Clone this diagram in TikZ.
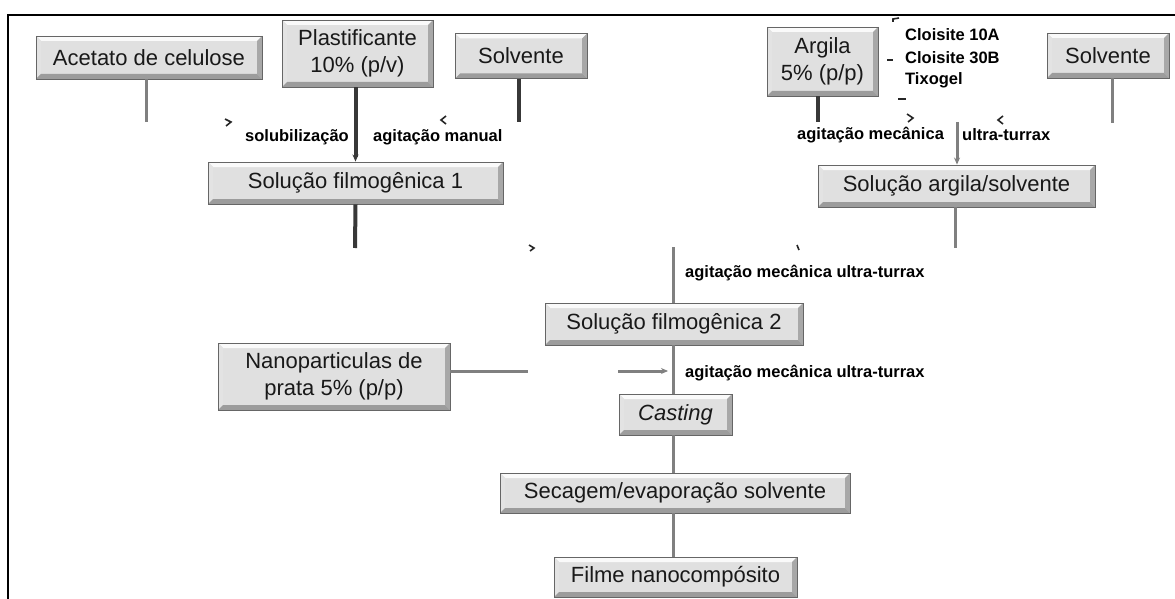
\documentclass[tikz,border=0pt]{standalone}
\usepackage{fontspec}
\setmainfont{Liberation Sans}
\usetikzlibrary{calc,arrows.meta}
\newcommand\bevfaces{%
  \fill[gray!4] let \p1=(path picture bounding box.north west), \p2=(path picture bounding box.south east) in
    (\x1,\y1) -- (\x2,\y1) -- (\x2-5pt,\y1-5pt) -- (\x1+5pt,\y1-5pt) -- cycle;
  \fill[gray!22] let \p1=(path picture bounding box.north west), \p2=(path picture bounding box.south east) in
    (\x1,\y1) -- (\x1,\y2) -- (\x1+5pt,\y2+5pt) -- (\x1+5pt,\y1-5pt) -- cycle;
  \fill[gray!68] let \p1=(path picture bounding box.north west), \p2=(path picture bounding box.south east) in
    (\x2,\y1) -- (\x2,\y2) -- (\x2-5pt,\y2+5pt) -- (\x2-5pt,\y1-5pt) -- cycle;
  \fill[gray!78] let \p1=(path picture bounding box.north west), \p2=(path picture bounding box.south east) in
    (\x1,\y2) -- (\x2,\y2) -- (\x2-5pt,\y2+5pt) -- (\x1+5pt,\y2+5pt) -- cycle;
}
\tikzset{
  bev/.style={draw=black!60, line width=0.9pt, fill=gray!24, inner sep=0pt, align=center,
    text=black!90, font=\fontsize{22}{27}\selectfont, path picture={\bevfaces}},
  lbl/.style={font=\bfseries\fontsize{16.5}{18}\selectfont, text=black, inner sep=0pt},
  darkln/.style={draw=black!78, line width=4pt},
  grayln/.style={draw=black!50, line width=3pt},
  tip/.style={-{Stealth[length=7pt,width=6pt]}},
  remnant/.style={draw=black!85, line width=1.6pt}
}
\begin{document}
\begin{tikzpicture}[x=1pt,y=-1pt]
\useasboundingbox (0,0) rectangle (1175,599);
\fill[white] (0,0) rectangle (1175,599);
\draw[line width=2.5pt] (8,599) -- (8,15) -- (1175,15);

% boxes
\node[bev, minimum width=226pt, minimum height=43pt] (acet) at (149,57.5) {Acetato de celulose};
\node[bev, minimum width=151pt, minimum height=67pt] (plast) at (357.5,53.5) {Plastificante\\10\% (p/v)};
\node[bev, minimum width=132pt, minimum height=45pt] (solv1) at (521,56) {Solvente};
\node[bev, minimum width=111pt, minimum height=69pt] (arg) at (822.5,61.5) {Argila\\5\% (p/p)};
\node[bev, minimum width=122pt, minimum height=45pt] (solv2) at (1108,55.5) {Solvente};
\node[bev, minimum width=295pt, minimum height=42pt] (sol1) at (355.5,183) {Solução filmogênica 1};
\node[bev, minimum width=277pt, minimum height=42pt] (solarg) at (956.5,186) {Solução argila/solvente};
\node[bev, minimum width=258pt, minimum height=42pt] (sol2) at (674,324) {Solução filmogênica 2};
\node[bev, minimum width=232pt, minimum height=67pt] (nano) at (334,376.5) {Nanoparticulas de\\prata 5\% (p/p)};
\node[bev, minimum width=113pt, minimum height=41pt] (cast) at (675.5,414.5) {\itshape Casting};
\node[bev, minimum width=350pt, minimum height=40pt] (sec) at (675,493) {Secagem/evaporação solvente};
\node[bev, minimum width=243pt, minimum height=40pt] (fime) at (675.5,577) {Filme nanocompósito};

% free ends
\coordinate (a1) at (146,122);
\coordinate (s1) at (519,122);
\coordinate (f1) at (355,248);
\coordinate (g1) at (818,122);
\coordinate (s2) at (1112,123);
\coordinate (u1) at (957,122);
\coordinate (r1) at (955,248);
\coordinate (m1) at (673,247);
\coordinate (n1) at (528,371);
\coordinate (n2) at (618,371);
\coordinate (n3) at (668,371);

% connectors
\draw[grayln] (acet.south -| a1) -- (a1);
\draw[darkln, tip] (sol1.north |- plast.south) -- (sol1.north);
\draw[darkln] (solv1.south -| s1) -- (s1);
\draw[darkln] (sol1.south) -- (f1);
\draw[darkln] (arg.south -| g1) -- (g1);
\draw[grayln] (solv2.south -| s2) -- (s2);
\draw[grayln, tip] (u1) -- (u1 |- solarg.north);
\draw[grayln] (solarg.south -| r1) -- (r1);
\draw[grayln] (m1) -- (m1 |- sol2.north);
\draw[grayln] (m1 |- sol2.south) -- (m1 |- cast.north);
\draw[grayln] (nano.east |- n1) -- (n1);
\draw[grayln, tip] (n2) -- (n3);
\draw[grayln] (m1 |- cast.south) -- (m1 |- sec.north);
\draw[grayln] (m1 |- sec.south) -- (m1 |- fime.north);

% labels
\node[lbl, anchor=west] (l1) at (245,137) {solubilização};
\node[lbl, anchor=west] (l2) at (373,137) {agitação manual};
\node[lbl, anchor=west] (l3) at (797,135) {agitação mecânica};
\node[lbl, anchor=west] (l4) at (962,135) {ultra-turrax};
\node[lbl, anchor=west] (l5) at (685,273) {agitação mecânica ultra-turrax};
\node[lbl, anchor=west] (l6) at (685,373) {agitação mecânica ultra-turrax};
\node[lbl, anchor=west] (c1) at (905,35) {Cloisite 10A};
\node[lbl, anchor=west] (c2) at (905,58) {Cloisite 30B};
\node[lbl, anchor=west] (c3) at (905,80) {Tixogel};

% small remnant marks
\draw[remnant] (225,119) -- (231,122) -- (226,126);
\draw[remnant] (446,116) -- (441,120) -- (446,124);
\draw[remnant] (907,114) -- (913,118) -- (908,122);
\draw[remnant] (1003,116) -- (998,120) -- (1003,124);
\draw[remnant] (529,245) -- (534,248) -- (530,251);
\draw[remnant] (797,245) -- (799,250);
\draw[remnant] (893,22) -- (893,19) -- (899,18);
\draw[remnant] (887,60) -- (893,60);
\draw[remnant] (898,99) -- (906,99);
\end{tikzpicture}
\end{document}
